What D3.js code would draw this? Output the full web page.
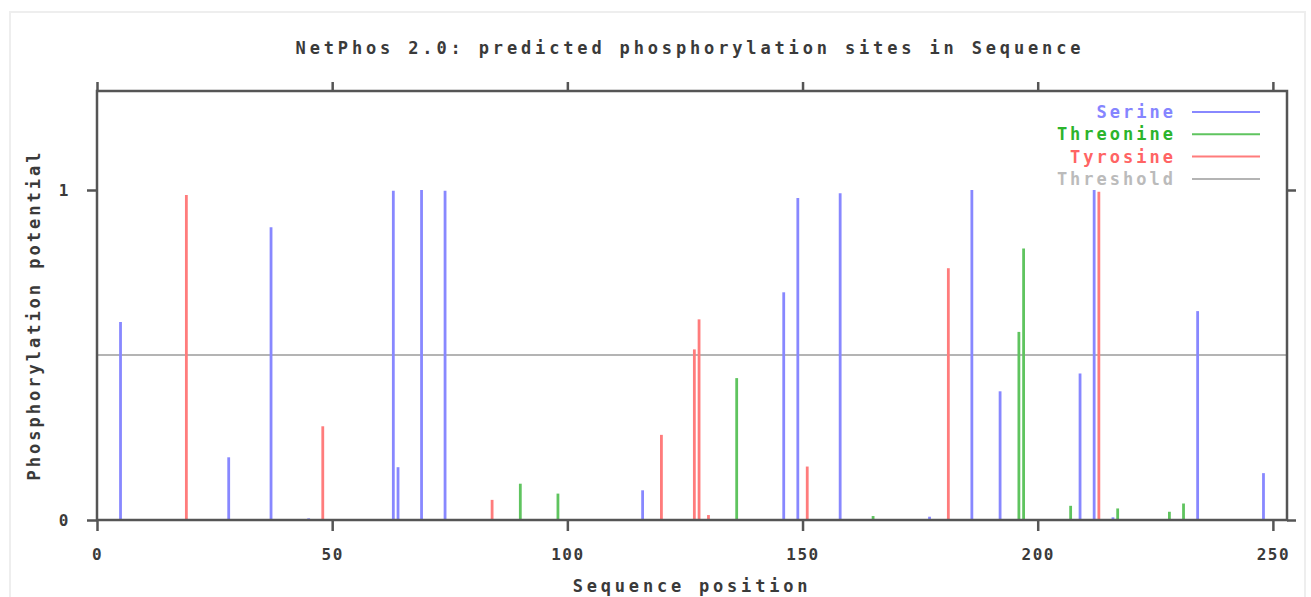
<!DOCTYPE html>
<head>
  <meta charset="utf-8">
  <title>NetPhos 2.0</title>
  <script src="https://cdn.jsdelivr.net/npm/d3@7"></script>
  <style>
    body { margin: 0; background: #fff; }
    text { font-family: "DejaVu Sans Mono", monospace; fill: #3a3a3a; font-weight: bold; }
  </style>
</head>
<body>
<script>
// [sequence position, potential]
var serine = [[5,0.60],[28,0.19],[37,0.887],[45,0.005],[63,0.998],[64,0.16],[69,1.0],[74,0.998],
    [105,0.003],[116,0.09],[146,0.69],[149,0.976],[158,0.99],[177,0.01],[186,1.0],[192,0.39],
    [209,0.444],[212,1.0],[216,0.008],[234,0.633],[248,0.142]];
var threonine = [[90,0.11],[98,0.08],[136,0.43],[165,0.012],[196,0.57],[197,0.823],[207,0.043],
    [217,0.035],[228,0.025],[231,0.05]];
var tyrosine = [[19,0.985],[48,0.284],[84,0.061],[120,0.258],[127,0.517],[128,0.608],[130,0.015],
    [151,0.162],[181,0.763],[213,0.995]];
var threshold = 0.5;
var seqLength = 253;
var xTicks = [0, 50, 100, 150, 200, 250];
var yTicks = [0, 1];

var W = 1311, H = 597;
var m = {left: 97, right: 1287, top: 91, bottom: 520};

var svg = d3.select("body").append("svg")
    .attr("width", W).attr("height", H);

// faint outer frame
svg.append("rect")
    .attr("x", 10).attr("y", 12).attr("width", W - 16).attr("height", H - 8)
    .attr("fill", "none").attr("stroke", "#eeeeee").attr("stroke-width", 2);

var x = d3.scaleLinear().domain([0, seqLength]).range([m.left, m.right]);
var y = d3.scaleLinear().domain([0, 1.3]).range([m.bottom, m.top]);

var series = [
    {name: "Serine", data: serine, color: "#8888ff", text: "#8585ff"},
    {name: "Threonine", data: threonine, color: "#5fc45f", text: "#2cb42c"},
    {name: "Tyrosine", data: tyrosine, color: "#ff7c7c", text: "#ff6464"}
];

// threshold
svg.append("line")
    .attr("x1", x(0)).attr("x2", x(seqLength))
    .attr("y1", y(threshold)).attr("y2", y(threshold))
    .attr("stroke", "#b4b4b4").attr("stroke-width", 2);

// impulses
series.forEach(function(s) {
    svg.append("g").selectAll("line")
        .data(s.data)
        .enter()
        .append("line")
        .attr("x1", d => x(d[0])).attr("x2", d => x(d[0]))
        .attr("y1", y(0)).attr("y2", d => y(d[1]))
        .attr("stroke", s.color)
        .attr("stroke-width", 2.8);
});

// axes
function styleAxis(g) {
    g.selectAll(".domain").remove();
    g.selectAll(".tick line").attr("stroke", "#555").attr("stroke-width", 2.5);
    g.selectAll(".tick text").attr("font-size", 16).style("letter-spacing", "1.5px");
}
svg.append("g").attr("transform", "translate(0," + m.bottom + ")")
    .call(d3.axisBottom(x).tickValues(xTicks).tickSize(11).tickPadding(18).tickFormat(d3.format("d")))
    .call(styleAxis);
svg.append("g").attr("transform", "translate(0," + m.top + ")")
    .call(d3.axisTop(x).tickValues(xTicks).tickSize(9).tickFormat(""))
    .call(styleAxis);
svg.append("g").attr("transform", "translate(" + m.left + ",0)")
    .call(d3.axisLeft(y).tickValues(yTicks).tickSize(10).tickPadding(17).tickFormat(d3.format("d")))
    .call(styleAxis);
svg.append("g").attr("transform", "translate(" + m.right + ",0)")
    .call(d3.axisRight(y).tickValues(yTicks).tickSize(9).tickFormat(""))
    .call(styleAxis);

// frame
svg.append("rect")
    .attr("x", m.left).attr("y", m.top)
    .attr("width", m.right - m.left).attr("height", m.bottom - m.top)
    .attr("fill", "none").attr("stroke", "#555").attr("stroke-width", 2.5);

// titles
svg.append("text")
    .attr("x", 690).attr("y", 54).attr("text-anchor", "middle")
    .attr("font-size", 17).style("letter-spacing", "3.85px")
    .text("NetPhos 2.0: predicted phosphorylation sites in Sequence");
svg.append("text")
    .attr("x", 692).attr("y", 592).attr("text-anchor", "middle")
    .attr("font-size", 17).style("letter-spacing", "3.8px")
    .text("Sequence position");
svg.append("text")
    .attr("transform", "translate(40,315) rotate(-90)").attr("text-anchor", "middle")
    .attr("font-size", 17).style("letter-spacing", "3px")
    .text("Phosphorylation potential");

// legend
var legend = series.map(s => ({name: s.name, color: s.color, text: s.text}))
    .concat([{name: "Threshold", color: "#b4b4b4", text: "#bbbbbb"}]);
var lg = svg.append("g").selectAll("g")
    .data(legend).enter().append("g")
    .attr("transform", (d, i) => "translate(0," + (112 + i * 22.3) + ")");
lg.append("text")
    .attr("x", 1176).attr("y", 6).attr("text-anchor", "end")
    .attr("font-size", 17).style("letter-spacing", "3px")
    .style("fill", d => d.text)
    .text(d => d.name);
lg.append("line")
    .attr("x1", 1192).attr("x2", 1260).attr("y1", 0).attr("y2", 0)
    .attr("stroke", d => d.color).attr("stroke-width", 2);
</script>
</body>
